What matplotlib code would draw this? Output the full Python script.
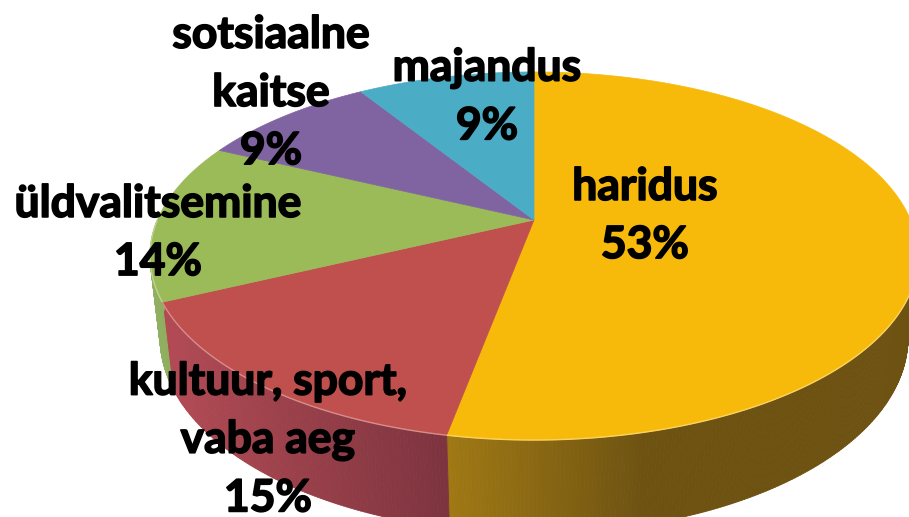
import matplotlib
matplotlib.use("Agg")
import matplotlib.pyplot as plt
import matplotlib.patheffects as pe
import numpy as np
from matplotlib.patches import Polygon
from matplotlib.collections import PolyCollection
from matplotlib.colors import to_rgb

# ── Data ──────────────────────────────────────────────────────────────
categories = ["haridus", "kultuur, sport,\nvaba aeg", "üldvalitsemine",
              "sotsiaalne\nkaitse", "majandus"]
shares = [53, 15, 14, 9, 9]

# ── Style / layout ────────────────────────────────────────────────────
COLORS = ["#F7BA0B", "#C0504D", "#9BBB59", "#8064A2", "#4BACC6"]
LABEL_XY = [(645, 216), (268, 440), (158, 233), (271, 93), (487, 97)]
W, H = 909, 517

# camera: pixel centre of the pie, radius, tilt, viewer distance, thickness
CX, CY, R = 534, 220, 376.6
SIN_E = 0.47
COS_E = np.sqrt(1 - SIN_E ** 2)
DIST = 5.115 * COS_E
THICK = 0.25
LIGHT = np.array([-1.0, -0.25])
LIGHT = LIGHT / np.linalg.norm(LIGHT)


def project(x, y, z):
    # y points away from the viewer, z up
    depth = y * COS_E - z * SIN_E
    f = DIST / (DIST + depth)
    return CX + R * x * f, CY - R * (y * SIN_E + z * COS_E) * f


fig = plt.figure(figsize=(W / 100, H / 100), dpi=100)
ax = fig.add_axes([0, 0, 1, 1])
ax.set_xlim(0, W)
ax.set_ylim(H, 0)
ax.axis("off")

fracs = np.array(shares, dtype=float) / sum(shares)
bounds = 90 - 360 * np.concatenate([[0], np.cumsum(fracs)])

# side walls (front half only), shaded by the normal
front_arcs = []
for i, col in enumerate(COLORS):
    hi, lo = bounds[i], bounds[i + 1]
    base = np.array(to_rgb(col))
    quads, shades = [], []
    for k in (-1, 0, 1):
        a0 = max(lo + 360 * k, -180)
        a1 = min(hi + 360 * k, 0)
        if a1 <= a0:
            continue
        front_arcs.append((i, a0, a1))
        th = np.radians(np.linspace(a0, a1, max(3, int((a1 - a0) * 2))))
        for t0, t1 in zip(th[:-1], th[1:]):
            x0, y0 = np.cos(t0), np.sin(t0)
            x1, y1 = np.cos(t1), np.sin(t1)
            pts = [project(x0, y0, 0), project(x1, y1, 0),
                   project(x1, y1, -THICK), project(x0, y0, -THICK)]
            quads.append(pts)
            tm = 0.5 * (t0 + t1)
            lit = max(0.0, np.cos(tm) * LIGHT[0] + np.sin(tm) * LIGHT[1])
            c = base * (0.44 + 0.5 * lit)
            shades.append(np.clip(c + np.array([0, 0, 0.05]), 0, 1))
    if quads:
        ax.add_collection(PolyCollection(quads, facecolors=shades,
                                         edgecolors=shades, linewidths=0.6))

# top faces
for i, col in enumerate(COLORS):
    hi, lo = bounds[i], bounds[i + 1]
    th = np.radians(np.linspace(hi, lo, 200))
    xs, ys = project(np.cos(th), np.sin(th), 0)
    pts = [(CX, CY)] + list(zip(xs, ys))
    ax.add_patch(Polygon(pts, closed=True, facecolor=col,
                         edgecolor=col, linewidth=0.5, zorder=3))

# light bevel on the front rim
for i, a0, a1 in front_arcs:
    th = np.radians(np.linspace(a0, a1, 100))
    xs, ys = project(np.cos(th), np.sin(th), 0)
    rim = 0.65 * np.array(to_rgb(COLORS[i])) + 0.35
    ax.plot(xs, ys, color=rim, lw=1.0, zorder=4, solid_capstyle="butt")

# labels
for name, v, (lx, ly) in zip(categories, shares, LABEL_XY):
    ax.text(lx, ly, f"{name}\n{v}%", ha="center", va="center",
            multialignment="center", fontsize=32, fontweight="bold",
            fontfamily="Lato", color="black", linespacing=1.55, zorder=5,
            path_effects=[pe.withStroke(linewidth=1.2, foreground="black")])

fig.savefig("out.png", dpi=100, facecolor="white")
